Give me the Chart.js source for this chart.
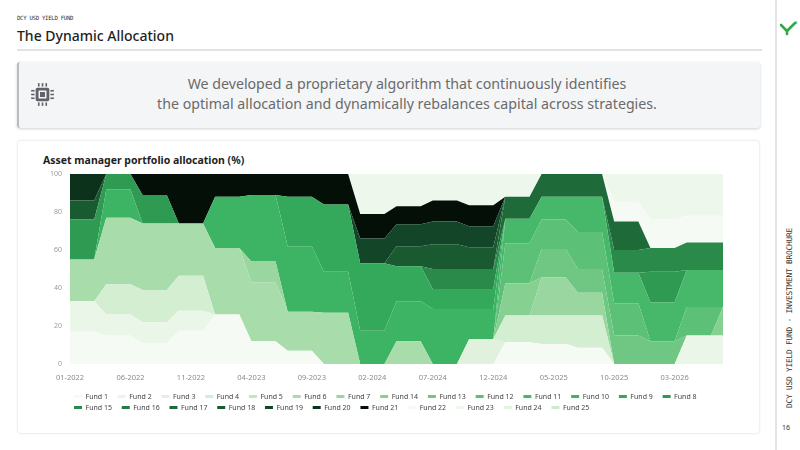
<!DOCTYPE html>
<html>
<head>
<meta charset="utf-8">
<script src="https://cdn.jsdelivr.net/npm/chart.js@4.4.1/dist/chart.umd.min.js"></script>
<style>
  html, body { margin: 0; padding: 0; }
  body { width: 800px; height: 450px; position: relative; background: #fff; font-family: "Noto Sans", sans-serif; overflow: hidden; }
  .kicker { position: absolute; left: 17px; top: 15px; font: 5.7px "DejaVu Sans Mono", monospace; color: #333; letter-spacing: -0.3px; }
  .title { position: absolute; left: 17px; top: 26px; font-size: 14px; font-weight: 500; color: #1e1e1e; }
  .rule { position: absolute; left: 17px; top: 49px; width: 745px; height: 2px; background: #e2e2e2; }
  .callout { position: absolute; left: 17px; top: 62px; width: 741px; height: 66px; background: #f4f5f7; border-left: 2px solid #b8bbc1; border-radius: 3px; box-shadow: 0 1px 3px rgba(0,0,0,0.18); }
  .callout svg { position: absolute; left: 12px; top: 20px; }
  .callout p { position: absolute; left: 35px; right: 0; top: 12px; margin: 0; text-align: center; font-size: 14.2px; line-height: 19.5px; color: #6a6a6a; }
  .side { position: absolute; left: 775px; top: 0; width: 1.5px; height: 450px; background: #e4e4e4; }
  .logo { position: absolute; left: 779px; top: 19px; }
  .vert { position: absolute; left: 789px; top: 318px; transform: translate(-50%, -50%) rotate(-90deg); white-space: nowrap; font: 7.8px "DejaVu Sans Mono", monospace; color: #333; letter-spacing: -0.2px; }
  .page { position: absolute; left: 782px; top: 423px; font-size: 7px; color: #333; }
  .card { position: absolute; left: 17px; top: 140px; width: 741px; height: 292px; background: #fff; border: 1px solid #f0f0f0; border-radius: 4px; box-shadow: 0 0 3px rgba(0,0,0,0.05); }
  .card h2 { position: absolute; left: 25px; top: 12px; margin: 0; font-size: 10.5px; font-weight: 700; color: #1e1e1e; }
  .chart-box { position: absolute; left: 30px; top: 163px; width: 720px; height: 258px; }
</style>
</head>
<body>
  <div class="kicker">DCY USD YIELD FUND</div>
  <div class="title">The Dynamic Allocation</div>
  <div class="rule"></div>

  <div class="callout">
    <svg width="23" height="25" viewBox="0 0 20 22">
      <g fill="#5f6268">
        <rect x="4" y="5" width="12" height="12" rx="1.5"/>
        <rect x="6" y="1" width="1.4" height="3"/><rect x="9.3" y="1" width="1.4" height="3"/><rect x="12.6" y="1" width="1.4" height="3"/>
        <rect x="6" y="18" width="1.4" height="3"/><rect x="9.3" y="18" width="1.4" height="3"/><rect x="12.6" y="18" width="1.4" height="3"/>
        <rect x="0" y="7" width="3" height="1.4"/><rect x="0" y="10.3" width="3" height="1.4"/><rect x="0" y="13.6" width="3" height="1.4"/>
        <rect x="17" y="7" width="3" height="1.4"/><rect x="17" y="10.3" width="3" height="1.4"/><rect x="17" y="13.6" width="3" height="1.4"/>
      </g>
      <rect x="6.5" y="7.5" width="7" height="7" fill="#f4f5f7" rx="0.5"/>
      <rect x="7.8" y="8.8" width="4.4" height="4.4" fill="#5f6268"/>
    </svg>
    <p>We developed a proprietary algorithm that continuously identifies<br>the optimal allocation and dynamically rebalances capital across strategies.</p>
  </div>

  <div class="side"></div>
  <svg class="logo" width="20" height="18" viewBox="0 0 20 18">
    <path d="M2 6 L8 12 L16 4" stroke="#2eaa4a" stroke-width="2.6" fill="none" stroke-linecap="round" stroke-linejoin="round"/>
    <path d="M8 12 L8 15" stroke="#2eaa4a" stroke-width="2.6" stroke-linecap="round"/>
    <text x="16" y="4.5" font-size="5" fill="#2eaa4a" font-family="Noto Sans">s</text>
  </svg>
  <div class="vert">DCY USD YIELD FUND - INVESTMENT BROCHURE</div>
  <div class="page">16</div>

  <div class="card"><h2>Asset manager portfolio allocation (%)</h2></div>
  <div class="chart-box"><canvas id="allocationChart"></canvas></div>

<script>
  // Month labels, 01-2022 .. 07-2026
  const months = [
    '01-2022','02-2022','03-2022','04-2022','05-2022','06-2022','07-2022','08-2022','09-2022','10-2022','11-2022','12-2022',
    '01-2023','02-2023','03-2023','04-2023','05-2023','06-2023','07-2023','08-2023','09-2023','10-2023','11-2023','12-2023',
    '01-2024','02-2024','03-2024','04-2024','05-2024','06-2024','07-2024','08-2024','09-2024','10-2024','11-2024','12-2024',
    '01-2025','02-2025','03-2025','04-2025','05-2025','06-2025','07-2025','08-2025','09-2025','10-2025','11-2025','12-2025',
    '01-2026','02-2026','03-2026','04-2026','05-2026','06-2026','07-2026'
  ];

  const yTicks = [0, 20, 40, 60, 80, 100];

  // Allocation per fund (%), one value per month
  const fund1 = [17,17,17, 15,15,15, 11,11,11, 17.5,17.5,17.5, 26,26,26, 12,12,12, 7,7,7, 0,0,0, 0,0,0, 0,0,0, 0,0,0, 0,0,0, 11.5,11.5,11.5, 10.5,10.5,10.5, 8.5,8.5,8.5, 0,0,0, 0,0,0, 0,0,0, 0];
  const fund2 = [16,16,16, 11,11,11, 11,11,11, 10.5,10.5,10.5, 0,0,0, 0,0,0, 0,0,0, 0,0,0, 0,0,0, 0,0,0, 0,0,0, 0,0,0, 0,0,0, 0,0,0, 0,0,0, 0,0,0, 0,0,0, 15,15,15, 15];
  const fund3 = [0,0,0, 0,0,0, 0,0,0, 0,0,0, 0,0,0, 0,0,0, 0,0,0, 0,0,0, 0,0,0, 0,0,0, 0,0,0, 13,13,13, 0,0,0, 0,0,0, 0,0,0, 0,0,0, 0,0,0, 0,0,0, 0];
  const fund4 = [0,0,0, 16,16,16, 17,17,17, 18.5,18.5,18.5, 0,0,0, 0,0,0, 0,0,0, 0,0,0, 0,0,0, 0,0,0, 0,0,0, 0,0,0, 14,14,14, 15,15,15, 17,17,17, 0,0,0, 0,0,0, 0,0,0, 0];
  const fund5 = [0,0,0, 0,0,0, 0,0,0, 0,0,0, 0,0,0, 0,0,0, 0,0,0, 0,0,0, 0,0,0, 0,0,0, 0,0,0, 0,0,0, 0,0,0, 0,0,0, 0,0,0, 0,0,0, 0,0,0, 0,0,0, 0];
  const fund6 = [22,22,22, 35,35,35, 35,35,35, 27.5,27.5,27.5, 35,35,35, 31,31,31, 20.5,20.5,20.5, 27,27,27, 0,0,0, 12,12,12, 0,0,0, 0,0,0, 0,0,0, 0,0,0, 0,0,0, 0,0,0, 0,0,0, 0,0,0, 0];
  const fund7 = [0,0,0, 0,0,0, 0,0,0, 0,0,0, 0,0,0, 11,11,11, 0,0,0, 0,0,0, 0,0,0, 0,0,0, 0,0,0, 0,0,0, 0,0,0, 20,20,20, 12,12,12, 0,0,0, 0,0,0, 0,0,0, 0];
  const fund8 = [21,21,21, 8,8,8, 15,15,15, 0,0,0, 0,0,0, 0,0,0, 0,0,0, 0,0,0, 0,0,0, 0,0,0, 0,0,0, 0,0,0, 0,0,0, 0,0,0, 0,0,0, 0,0,0, 16,16,16, 0,0,0, 0];
  const fund9 = [0,0,0, 0,0,0, 0,0,0, 0,0,0, 0,0,0, 0,0,0, 26,26,26, 35.5,35.5,35.5, 35.5,35.5,35.5, 18.5,18.5,18.5, 10.5,10.5,10.5, 10.5,10.5,10.5, 0,0,0, 0,0,0, 0,0,0, 0,0,0, 0,0,0, 0,0,0, 0];
  const fund10 = [0,0,0, 15,15,15, 0,0,0, 0,0,0, 27,27,27, 35,35,35, 34.5,34.5,34.5, 21.5,21.5,21.5, 17.5,17.5,17.5, 21,21,21, 29,29,29, 16,16,16, 0,0,0, 0,0,0, 0,0,0, 0,0,0, 0,0,0, 0,0,0, 0];
  const fund11 = [0,0,0, 0,0,0, 0,0,0, 0,0,0, 0,0,0, 0,0,0, 0,0,0, 0,0,0, 0,0,0, 0,0,0, 0,0,0, 0,0,0, 13,13,13, 12,12,12, 18.5,18.5,18.5, 16,16,16, 20.5,20.5,20.5, 19.5,19.5,19.5, 19.5];
  const fund12 = [0,0,0, 0,0,0, 0,0,0, 0,0,0, 0,0,0, 0,0,0, 0,0,0, 0,0,0, 0,0,0, 0,0,0, 0,0,0, 0,0,0, 21,21,21, 15.5,15.5,15.5, 19.5,19.5,19.5, 17,17,17, 0,0,0, 15,15,15, 0];
  const fund13 = [0,0,0, 0,0,0, 0,0,0, 0,0,0, 0,0,0, 0,0,0, 0,0,0, 0,0,0, 0,0,0, 0,0,0, 0,0,0, 0,0,0, 0,0,0, 15,15,15, 12.5,12.5,12.5, 15,15,15, 12,12,12, 0,0,0, 0];
  const fund14 = [0,0,0, 0,0,0, 0,0,0, 0,0,0, 0,0,0, 0,0,0, 0,0,0, 0,0,0, 0,0,0, 0,0,0, 0,0,0, 0,0,0, 17,17,17, 0,0,0, 0,0,0, 0,0,0, 0,0,0, 0,0,0, 15];
  const fund15 = [0,0,0, 0,0,0, 0,0,0, 0,0,0, 0,0,0, 0,0,0, 0,0,0, 0,0,0, 0,0,0, 0,0,0, 10.5,10.5,10.5, 10.5,10.5,10.5, 0,0,0, 0,0,0, 0,0,0, 12,12,12, 12.5,12.5,12.5, 14.5,14.5,14.5, 14.5];
  const fund16 = [0,0,0, 0,0,0, 0,0,0, 0,0,0, 0,0,0, 0,0,0, 0,0,0, 0,0,0, 0,0,0, 0,0,0, 0,0,0, 0,0,0, 0,0,0, 0,0,0, 0,0,0, 0,0,0, 0,0,0, 0,0,0, 0];
  const fund17 = [0,0,0, 0,0,0, 0,0,0, 0,0,0, 0,0,0, 0,0,0, 0,0,0, 0,0,0, 0,0,0, 0,0,0, 0,0,0, 0,0,0, 11.5,11.5,11.5, 12,12,12, 12,12,12, 15,15,15, 0,0,0, 0,0,0, 0];
  const fund18 = [10,10,10, 0,0,0, 0,0,0, 0,0,0, 0,0,0, 0,0,0, 0,0,0, 0,0,0, 0,0,0, 10.5,10.5,10.5, 13,13,13, 11.5,11.5,11.5, 0,0,0, 0,0,0, 0,0,0, 0,0,0, 0,0,0, 0,0,0, 0];
  const fund19 = [0,0,0, 0,0,0, 0,0,0, 0,0,0, 0,0,0, 0,0,0, 0,0,0, 0,0,0, 13,13,13, 11.5,11.5,11.5, 12,12,12, 11,11,11, 0,0,0, 0,0,0, 0,0,0, 0,0,0, 0,0,0, 0,0,0, 0];
  const fund20 = [14,14,14, 0,0,0, 0,0,0, 0,0,0, 0,0,0, 0,0,0, 0,0,0, 0,0,0, 0,0,0, 0,0,0, 0,0,0, 0,0,0, 0,0,0, 0,0,0, 0,0,0, 0,0,0, 0,0,0, 0,0,0, 0];
  const fund21 = [0,0,0, 0,0,0, 11,11,11, 26,26,26, 12,12,12, 11,11,11, 12,12,12, 16,16,16, 13,13,13, 9.5,9.5,9.5, 11,11,11, 11,11,11, 0,0,0, 0,0,0, 0,0,0, 0,0,0, 0,0,0, 0,0,0, 0];
  const fund22 = [0,0,0, 0,0,0, 0,0,0, 0,0,0, 0,0,0, 0,0,0, 0,0,0, 0,0,0, 0,0,0, 0,0,0, 0,0,0, 0,0,0, 0,0,0, 0,0,0, 0,0,0, 10,10,10, 15,15,15, 14,14,14, 14];
  const fund23 = [0,0,0, 0,0,0, 0,0,0, 0,0,0, 0,0,0, 0,0,0, 0,0,0, 0,0,0, 21,21,21, 17,17,17, 14,14,14, 16.5,16.5,16.5, 12,12,12, 0,0,0, 0,0,0, 15,15,15, 24,24,24, 22,22,22, 22];
  const fund24 = [0,0,0, 0,0,0, 0,0,0, 0,0,0, 0,0,0, 0,0,0, 0,0,0, 0,0,0, 0,0,0, 0,0,0, 0,0,0, 0,0,0, 0,0,0, 0,0,0, 0,0,0, 0,0,0, 0,0,0, 0,0,0, 0];
  const fund25 = [0,0,0, 0,0,0, 0,0,0, 0,0,0, 0,0,0, 0,0,0, 0,0,0, 0,0,0, 0,0,0, 0,0,0, 0,0,0, 0,0,0, 0,0,0, 0,0,0, 0,0,0, 0,0,0, 0,0,0, 0,0,0, 0];

  // Stack / legend order as in the brochure
  const fundNames = [
    'Fund 1','Fund 2','Fund 3','Fund 4','Fund 5','Fund 6','Fund 7',
    'Fund 14','Fund 13','Fund 12','Fund 11','Fund 10','Fund 9','Fund 8',
    'Fund 15','Fund 16','Fund 17','Fund 18','Fund 19','Fund 20','Fund 21',
    'Fund 22','Fund 23','Fund 24','Fund 25'
  ];
  const fundSeries = [
    fund1, fund2, fund3, fund4, fund5, fund6, fund7,
    fund14, fund13, fund12, fund11, fund10, fund9, fund8,
    fund15, fund16, fund17, fund18, fund19, fund20, fund21,
    fund22, fund23, fund24, fund25
  ];
  const fundColors = [
    '#f5fbf4','#eaf6e8','#e0f2de','#d4eed2','#c2e6c1','#a8dcab','#9ad6a0',
    '#86d092','#70c783','#5cc077','#47b86a','#3cb464','#34a85b','#2e9a52',
    '#2a8a4a','#257a42','#1f6a39','#1a5a31','#134628','#0c321b','#030f07',
    '#f5fbf4','#edf7ec','#e2f2e0','#cbead0'
  ];

  const datasets = fundSeries.map((values, i) => ({
    label: fundNames[i],
    data: values,
    backgroundColor: fundColors[i],
    borderColor: fundColors[i],
    borderWidth: 0,
    pointRadius: 0,
    pointHoverRadius: 0,
    tension: 0,
    fill: i === 0 ? 'origin' : '-1'
  }));

  // Legend starts under the plot, not at the canvas edge
  const legendOffset = {
    id: 'legendOffset',
    afterLayout(chart) {
      if (chart.legend) chart.legend.left = chart.chartArea.left;
    }
  };

  new Chart(document.getElementById('allocationChart'), {
    type: 'line',
    data: { labels: months, datasets: datasets },
    plugins: [legendOffset],
    options: {
      responsive: true,
      maintainAspectRatio: false,
      animation: false,
      layout: { padding: { left: 0, right: 27, top: 11, bottom: 0 } },
      interaction: { mode: 'index', intersect: false },
      scales: {
        x: {
          grid: { display: false },
          border: { display: false },
          afterFit: function(scale) { scale.height += 6; },
          ticks: {
            autoSkip: false,
            maxRotation: 0,
            padding: 1,
            color: '#8c8c8c',
            font: { family: 'Noto Sans', size: 7.5 },
            callback: function(value, index) {
              return index % 5 === 0 ? months[index] : '';
            }
          }
        },
        y: {
          stacked: true,
          min: yTicks[0],
          max: yTicks[yTicks.length - 1],
          grid: { display: false },
          border: { display: false },
          afterFit: function(scale) { scale.width = 40; },
          afterBuildTicks: function(scale) {
            scale.ticks = yTicks.map(v => ({ value: v }));
          },
          ticks: { padding: 0, color: '#9a9a9a', font: { family: 'Noto Sans', size: 7 } }
        }
      },
      plugins: {
        tooltip: { enabled: false },
        legend: {
          position: 'bottom',
          align: 'start',
          labels: {
            boxWidth: 8,
            boxHeight: 3,
            padding: 4,
            color: '#444',
            font: { family: 'Noto Sans', size: 7 },
            generateLabels: function(chart) {
              const items = Chart.defaults.plugins.legend.labels.generateLabels(chart);
              items.forEach(item => { item.text = item.text + '\u2002\u2009\u2009'; item.lineWidth = 0; });
              return items;
            }
          }
        }
      }
    }
  });
</script>
</body>
</html>
